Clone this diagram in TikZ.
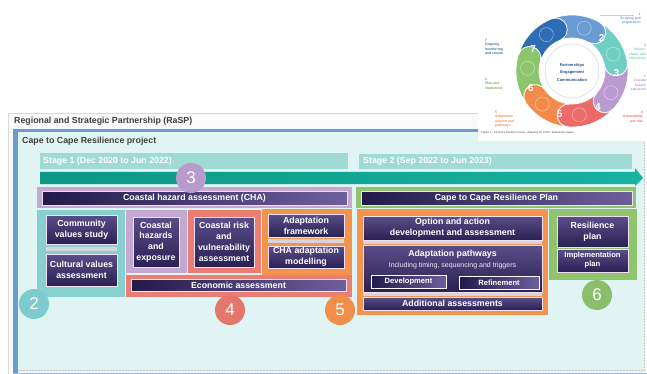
\documentclass[tikz,border=0pt]{standalone}
\usepackage{fontspec}
\setmainfont{Liberation Sans}
\definecolor{cteal}{HTML}{86D0CF}
\definecolor{cpurp}{HTML}{C3A8D3}
\definecolor{cred}{HTML}{EB7D72}
\definecolor{corange}{HTML}{F2934E}
\definecolor{cgreen}{HTML}{8FC36E}
\definecolor{cstage}{HTML}{A0DAD4}
\definecolor{carrowL}{HTML}{0C9786}
\definecolor{carrowR}{HTML}{17B2A2}
\definecolor{cproj}{HTML}{E0F5F3}
\definecolor{cblue}{HTML}{6C9BD0}
\definecolor{cdarkA}{HTML}{221A4A}
\definecolor{cdarkB}{HTML}{6E5F9B}
\definecolor{cboxT}{HTML}{5B4D89}
\definecolor{cboxB}{HTML}{2A2153}
\definecolor{csep}{HTML}{D3D6DC}
\definecolor{ctitle}{HTML}{3F3F3F}
\definecolor{craspline}{HTML}{D9D9D9}
\definecolor{craspfill}{HTML}{FAFAFA}
\definecolor{seg1}{HTML}{6A9BD3}
\definecolor{seg2}{HTML}{6FCFC5}
\definecolor{seg3}{HTML}{B99BD2}
\definecolor{seg4}{HTML}{EC6B6A}
\definecolor{seg5}{HTML}{F28B4A}
\definecolor{seg6}{HTML}{8CC56B}
\definecolor{seg7}{HTML}{2E6CB6}
\definecolor{cnavy}{HTML}{1F4E8C}
\definecolor{n2c}{HTML}{7DCBCE}
\definecolor{n3c}{HTML}{B99BCB}
\definecolor{n4c}{HTML}{E5766B}
\definecolor{n5c}{HTML}{EF8F4B}
\definecolor{n6c}{HTML}{8BBE6B}
\newcommand{\Bx}[7]{\node[inner sep=0pt, outer sep=0pt, minimum width={(#4-#2)*1pt}, minimum height={(#5-#3)*1pt}, #6] (#1) at ({(#2+#4)/2},{(#3+#5)/2}) {#7};}
\begin{document}
\begin{tikzpicture}[x=1pt,y=-1pt,
  bar/.style={left color=cdarkA, right color=cdarkB, draw=white!88!violet, line width=0.7pt},
  blk/.style={top color=cboxT, bottom color=cboxB, draw=white!88!violet, line width=0.7pt},
  wt/.style={text=white, font=\bfseries\fontsize{8.8}{10.8}\selectfont, align=center},
  wts/.style={text=white, font=\bfseries\fontsize{7.6}{9}\selectfont, align=center},
  btn/.style={left color=cdarkA, right color=cdarkB, draw=white, line width=1pt},
  num/.style={circle, inner sep=0pt, minimum size=30pt, text=white, font=\fontsize{17}{17}\selectfont},
  ttl/.style={text=ctitle, font=\bfseries\fontsize{8.8}{10}\selectfont, anchor=west, inner sep=0pt},
  lbl/.style={font=\bfseries\fontsize{3.4}{4.3}\selectfont, inner sep=0pt}]
\useasboundingbox (0,0) rectangle (647,374);
\clip (0,0) rectangle (647,374);
\fill[white] (0,0) rectangle (647,374);
% RaSP box
\Bx{rasp}{8}{113}{700}{400}{fill=craspfill, draw=craspline, line width=0.8pt}{}
\node[ttl] (rasptitle) at (14,121.5) {Regional and Strategic Partnership (RaSP)};
% project box
\Bx{proj}{15}{130}{644}{372}{fill=cproj}{}
\fill[cblue] (13,129) rectangle (18,374);
\fill[cblue] (13,129) rectangle (500,132);
\fill[cblue!70] (13,372.5) rectangle (647,374);
\draw[gray!45, densely dotted, line width=0.5pt] (18,370) -- (644,370) -- (644,135);
\node[ttl] (projtitle) at (22,141.5) {Cape to Cape Resilience project};
% stages
\Bx{st1}{40}{153}{348}{169}{fill=cstage}{}
\node[text=white, font=\bfseries\fontsize{8.8}{10}\selectfont, anchor=west, inner sep=0pt] (st1t) at (43,161) {Stage 1 (Dec 2020 to Jun 2022)};
\Bx{st2}{359}{154}{632}{169}{fill=cstage}{}
\node[text=white, font=\bfseries\fontsize{8.8}{10}\selectfont, anchor=west, inner sep=0pt] (st2t) at (363,161.5) {Stage 2 (Sep 2022 to Jun 2023)};
\shade[left color=carrowL, right color=carrowR] (40,172) -- (635,172) -- (635,168) -- (643,178) -- (635,186) -- (635,184) -- (40,184) -- cycle;
% CHA
\Bx{chaf}{37}{187}{352}{208}{fill=cpurp}{}
\Bx{cha}{42}{191}{347}{205}{bar, wt}{Coastal hazard assessment (CHA)}
\Bx{planf}{356}{187}{636}{208}{fill=cgreen}{}
\Bx{plan}{361}{191}{632}{205}{bar, wt}{Cape to Cape Resilience Plan}
% teal 2
\Bx{t2}{37}{210}{125}{297}{fill=cteal}{}
\Bx{cvs}{46}{215}{117}{244}{blk, wt}{Community\\values study}
\Bx{sep1}{46}{247}{117}{251}{fill=csep}{}
\Bx{cva}{46}{254}{117}{286}{blk, wt}{Cultural values\\assessment}
% purple 3
\Bx{p3}{126}{210}{187}{273}{fill=cpurp}{}
\Bx{che}{133}{217}{179}{267}{blk, wt}{Coastal\\hazards\\and\\exposure}
% red 4
\Bx{r4}{188}{210}{261}{273}{fill=cred}{}
\Bx{crv}{194}{217}{254}{267}{blk, wt}{Coastal risk\\and\\vulnerability\\assessment}
\Bx{eco}{126}{275}{352}{297}{fill=cred}{}
\Bx{ecoi}{131}{279}{346}{291}{bar, wt}{Economic assessment}
% orange 5
\Bx{o5}{262}{209}{352}{275}{fill=corange}{}
\Bx{af}{268}{214}{344}{237}{blk, wt}{Adaptation\\framework}
\Bx{sep2}{268}{239}{344}{243}{fill=csep}{}
\Bx{cham}{268}{246}{344}{268}{blk, wt}{CHA adaptation\\modelling}
\Bx{o5b}{357}{209}{548}{315}{fill=corange}{}
\Bx{opt}{363}{216}{542}{240}{blk, wt}{Option and action\\development and assessment}
\Bx{sep3}{363}{241.3}{542}{244}{fill=csep}{}
\Bx{ap}{363}{245}{542}{292}{blk}{}
\node[wt] (apt) at (452.5,254) {Adaptation pathways};
\node[text=white!92!violet, font=\fontsize{7}{8}\selectfont] (aps) at (452.5,265.5) {Including timing, sequencing and triggers};
\Bx{dev}{371}{275}{446}{288}{btn, wts}{Development}
\Bx{refi}{459}{276}{539}{289}{btn, wts}{Refinement}
\Bx{sep4}{363}{293}{542}{296}{fill=csep}{}
\Bx{add}{363}{297}{542}{310}{blk, wt}{Additional assessments}
% green 6
\Bx{g6}{549}{209}{637}{280}{fill=cgreen}{}
\Bx{rp}{557}{216}{628}{247}{blk, wt}{Resilience\\plan}
\Bx{ip}{557}{249}{628}{272}{blk, wts}{Implementation\\plan}
% number circles
\node[num, fill=n2c] (n2) at (34,304) {2};
\node[num, fill=n3c] (n3) at (191,178) {3};
\node[num, fill=n4c] (n4) at (230,310) {4};
\node[num, fill=n5c] (n5) at (340,310) {5};
\node[num, fill=n6c] (n6) at (597,295) {6};
% figure inset
\fill[white] (478,0) rectangle (647,141);
\begin{scope}[shift={(572,71)}]
\foreach \k/\c/\col in {1/86/seg1, 2/34.29/seg2, 3/-17.14/seg3, 4/-68.57/seg4, 5/-120/seg5, 6/-171.43/seg6, 7/137.14/seg7}{
  \pgfmathsetmacro\s{\c+25.714}
  \pgfmathsetmacro\e{\c-25.714}
  \fill[\col, draw=white, line width=0.7pt] (\s:56pt) arc[start angle=\s, end angle=\e, radius=56pt]
     arc[start angle=\e, end angle=\e-180, radius=11.5pt]
     arc[start angle=\e, end angle=\s, radius=33pt]
     arc[start angle=\s-180, end angle=\s, radius=11.5pt] -- cycle;
  \draw[white, opacity=0.45, line width=0.6pt] ({\c-12}:44.5pt) circle[radius=7pt];
  \node[text=white, font=\bfseries\fontsize{10}{10}\selectfont, inner sep=0pt] (rn\k) at ({\c+14}:44.5pt) {\k};
}
\draw[seg1!45, line width=0.4pt] (0pt,0pt) circle[radius=27pt];
\end{scope}
\node[font=\bfseries\fontsize{4}{7.8}\selectfont, text=cnavy, align=center, inner sep=0pt] (ctr) at (572,72.5) {Partnerships\\Engagement\\Communication};
\coordinate (lineA) at (600,15);
\coordinate (lineB) at (634,15);
\draw[gray!40, line width=0.3pt] (lineA) -- (lineB);
\node[lbl, text=seg1, anchor=north east, align=right] (l1) at (641,12.5) {1\\Scoping and\\preparation};
\node[lbl, text=seg2, anchor=north east, align=right] (l2) at (646,44) {2\\Values,\\vision and\\objectives};
\node[lbl, text=seg3, anchor=north east, align=right] (l3) at (646,75) {3\\Coastal\\hazard\\exposure};
\node[lbl, text=seg4, anchor=north east, align=right] (l4) at (643,111) {4\\Vulnerability\\and risk};
\node[lbl, text=seg5, anchor=north west, align=left] (l5) at (495,111) {5\\Adaptation\\actions and\\pathways};
\node[lbl, text=seg6!85!black, anchor=north west, align=left] (l6) at (485,78) {6\\Plan and\\implement};
\node[lbl, text=seg7, anchor=north west, align=left] (l7) at (485,39) {7\\Ongoing\\monitoring\\and review};
\node[font=\fontsize{2.8}{3}\selectfont, text=black!70, anchor=west, inner sep=0pt] (cap) at (481,133) {Figure 2 - Victoria's Resilient Coast - Adapting for 2100+ framework stages};
\end{tikzpicture}
\end{document}
